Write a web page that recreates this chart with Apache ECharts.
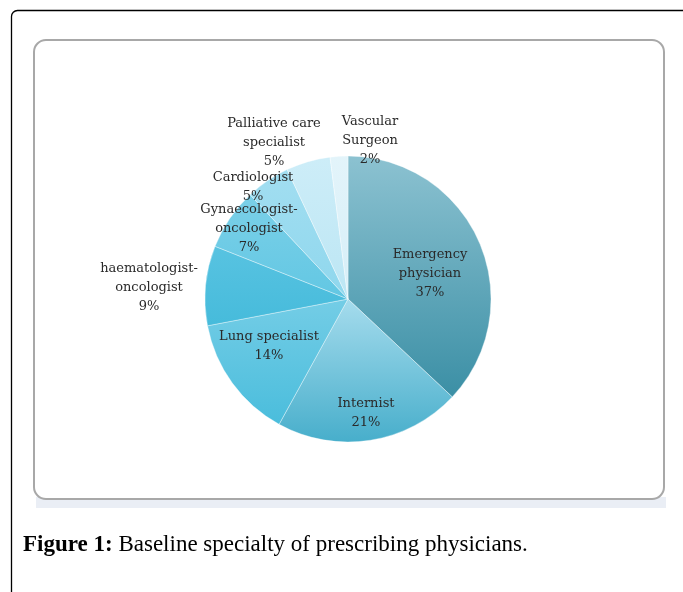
<!DOCTYPE html>
<html>
<head>
<meta charset="utf-8">
<script src="https://cdn.jsdelivr.net/npm/echarts@6/dist/echarts.min.js"></script>
<style>
html,body{margin:0;padding:0;background:#fff;}
#chart{width:683px;height:592px;}
</style>
</head>
<body>
<div id="chart"></div>
<script>
var categories = ['Emergency\nphysician', 'Internist', 'Lung specialist', 'haematologist-\noncologist', 'Gynaecologist-\noncologist', 'Cardiologist', 'Palliative care\nspecialist', 'Vascular\nSurgeon'];
var values = [37, 21, 14, 9, 7, 5, 5, 2];
var sliceColors = [
  ['#8cc2d1', '#3b8fa5'],
  ['#a6dced', '#47aecb'],
  ['#74cde6', '#4abddc'],
  ['#58c3e1', '#46bbdb'],
  ['#7bd0e8', '#62c7e3'],
  ['#a2def1', '#8fd7ed'],
  ['#cdedf8', '#bce6f4'],
  ['#e3f4fa', '#d6eff8']
];
var labelPos = [[430, 274], [366, 413], [269, 346], [149, 288], [249, 229], [253, 187], [274, 143], [370, 141]];
var captionBold = 'Figure 1:';
var captionText = ' Baseline specialty of prescribing physicians.';

var chart = echarts.init(document.getElementById('chart'), null, {renderer: 'canvas'});
var data = categories.map(function (c, i) {
  return {
    name: c,
    value: values[i],
    itemStyle: {
      color: new echarts.graphic.LinearGradient(0, 0, 0, 1, [
        {offset: 0, color: sliceColors[i][0]},
        {offset: 1, color: sliceColors[i][1]}
      ])
    }
  };
});

chart.setOption({
  animation: false,
  backgroundColor: '#fff',
  graphic: [
    {type: 'rect', shape: {x: 11.5, y: 10.5, width: 720, height: 640, r: 6}, style: {fill: 'none', stroke: '#000', lineWidth: 1.3}, z: 0},
    {type: 'rect', shape: {x: 36, y: 497, width: 630, height: 11}, style: {fill: '#eaeef5'}, z: 0},
    {type: 'rect', shape: {x: 34, y: 40, width: 630, height: 459, r: 12}, style: {fill: '#fff', stroke: '#a8a8a8', lineWidth: 2}, z: 1},
    {type: 'text', x: 23, y: 545, style: {
      text: '{b|' + captionBold + '}{n|' + captionText + '}',
      rich: {
        b: {fontFamily: 'Liberation Serif', fontSize: 23, fontWeight: 'bold', fill: '#000'},
        n: {fontFamily: 'Liberation Serif', fontSize: 23, fill: '#000'}
      },
      verticalAlign: 'middle'
    }, z: 2}
  ],
  series: [{
    type: 'pie',
    center: [348, 299],
    radius: [0, 143],
    startAngle: 90,
    clockwise: true,
    z: 5,
    data: data,
    itemStyle: {borderColor: 'rgba(255,255,255,0.45)', borderWidth: 0.8},
    label: {
      show: true,
      position: 'inside',
      formatter: function (p) { return p.name + '\n' + p.value + '%'; },
      fontFamily: 'DejaVu Serif',
      fontSize: 13,
      lineHeight: 19,
      color: '#2a2a2a',
      align: 'center'
    },
    labelLine: {show: false},
    labelLayout: function (p) {
      var pos = labelPos[p.dataIndex];
      return {x: pos[0], y: pos[1], align: 'center', verticalAlign: 'middle'};
    },
    emphasis: {disabled: true}
  }]
});
</script>
</body>
</html>
